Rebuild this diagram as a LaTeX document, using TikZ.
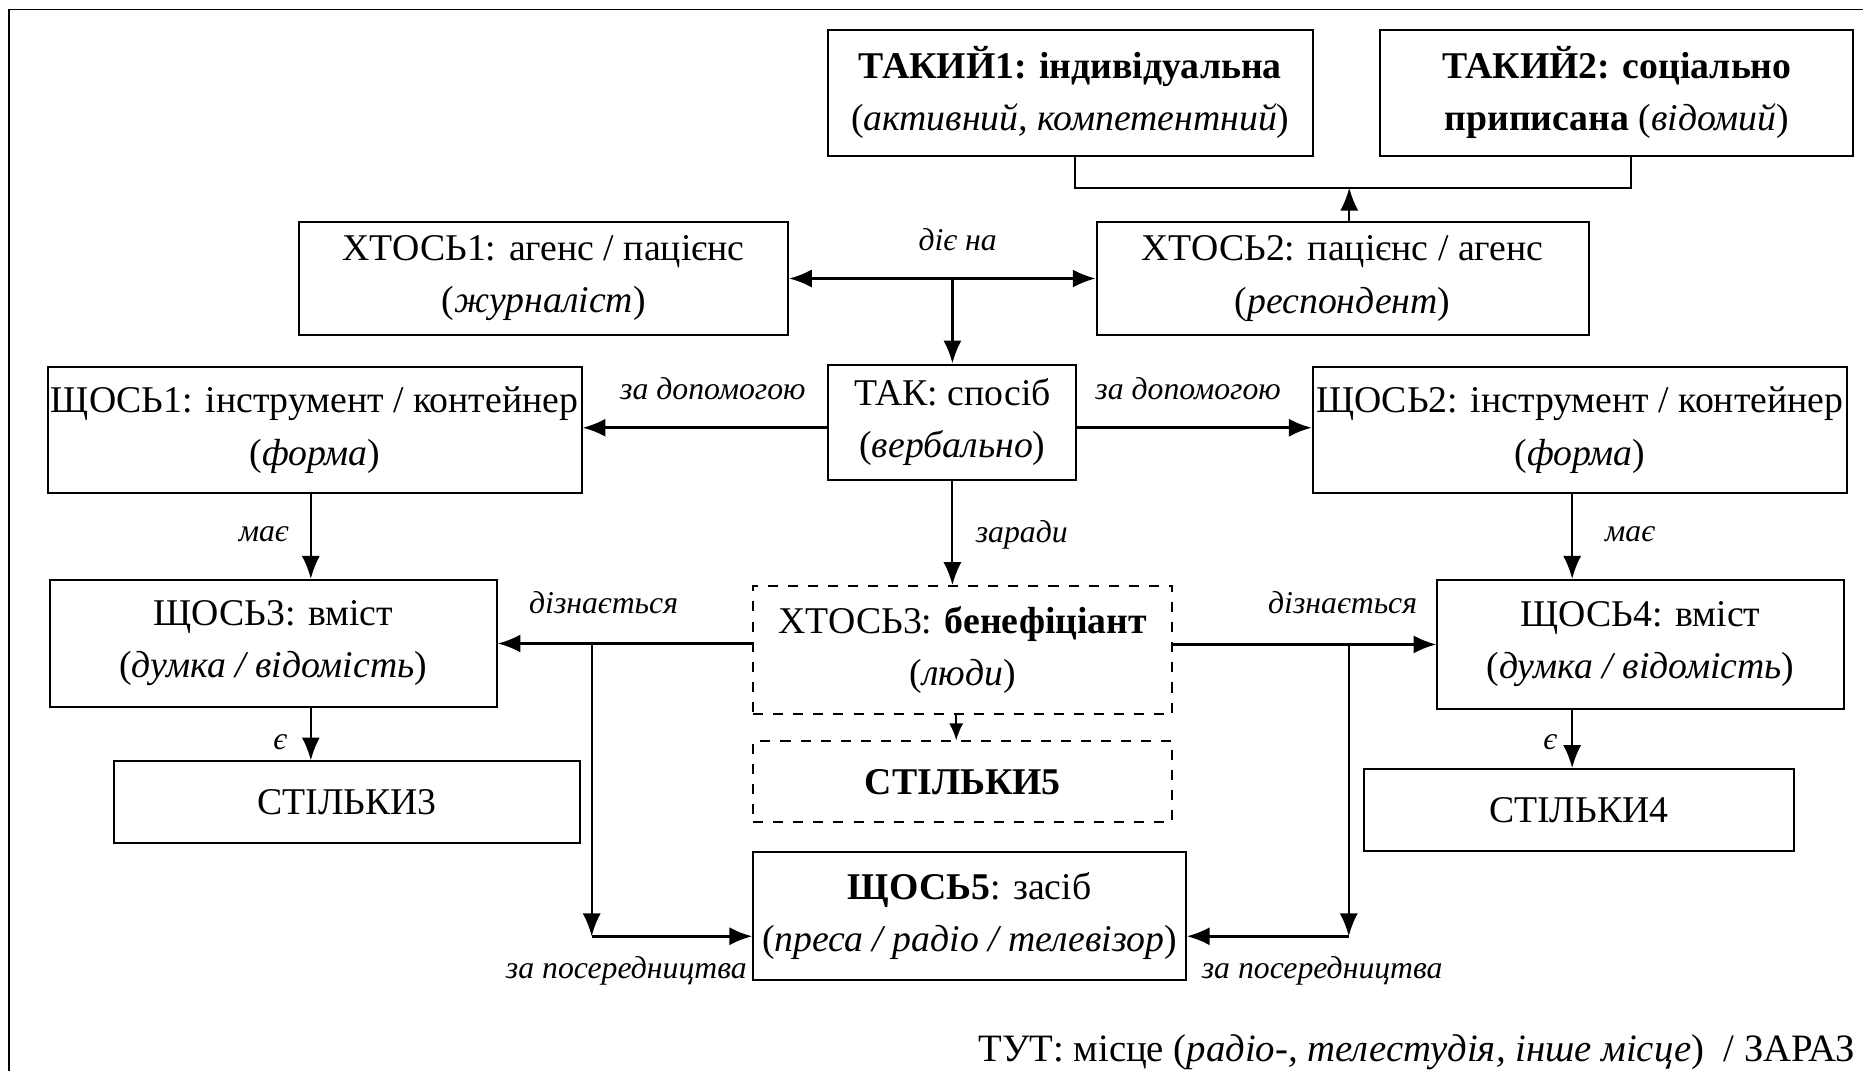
\documentclass[tikz,border=0pt]{standalone}
\usepackage{fontspec}
\setmainfont{Liberation Serif}
\usetikzlibrary{arrows.meta,positioning}

\begin{document}
\begin{tikzpicture}[
    box/.style={draw,semithick,inner sep=1pt,align=center,font=\fontsize{11.3}{15.6}\selectfont},
    dbox/.style={box,dashed},
    lbl/.style={font=\fontsize{9.5}{11}\selectfont\itshape},
    arr/.style={-{Latex[length=2.4mm,width=1.9mm]},thick}]

    \useasboundingbox (0,0) rectangle (19.6,-11.2625);
    \draw[thin] (0.095,-11.2625) |- (19.6,-0.1);

    % top row
    \node[box,minimum width=5.1cm,minimum height=1.325cm] (tak1) at (11.26,-0.975) {\textbf{ТАКИЙ1: індивідуальна}\\(\textit{активний, компетентний})};
    \node[box,minimum width=4.975cm,minimum height=1.325cm] (tak2) at (17.01,-0.975) {\textbf{ТАКИЙ2: соціально}\\\textbf{приписана} (\textit{відомий})};

    \node[box,minimum width=5.14cm,minimum height=1.19cm] (xtos1) at (5.72,-2.93) {ХТОСЬ1: агенс / пацієнс\\(\textit{журналіст})};
    \node[box,minimum width=5.175cm,minimum height=1.19cm] (xtos2) at (14.125,-2.93) {ХТОСЬ2: пацієнс / агенс\\(\textit{респондент})};

    \node[box,minimum width=2.61cm,minimum height=1.21cm] (tak) at (10.02,-4.44) {ТАК: спосіб\\(\textit{вербально})};
    \node[box,minimum width=5.575cm,minimum height=1.325cm] (schos1) at (3.31,-4.525) {ЩОСЬ1: інструмент / контейнер\\(\textit{форма})};
    \node[box,minimum width=5.56cm,minimum height=1.325cm] (schos2) at (16.62,-4.525) {ЩОСЬ2: інструмент / контейнер\\(\textit{форма})};

    \node[box,minimum width=4.7cm,minimum height=1.34cm] (schos3) at (2.875,-6.77) {ЩОСЬ3: вміст\\(\textit{думка / відомість})};
    \node[box,minimum width=4.275cm,minimum height=1.36cm] (schos4) at (17.26,-6.78) {ЩОСЬ4: вміст\\(\textit{думка / відомість})};
    \node[dbox,minimum width=4.41cm,minimum height=1.35cm] (xtos3) at (10.13,-6.84) {ХТОСЬ3: \textbf{бенефіціант}\\(\textit{люди})};

    \node[dbox,minimum width=4.41cm,minimum height=0.85cm] (stil5) at (10.13,-8.225) {\textbf{СТІЛЬКИ5}};
    \node[box,minimum width=4.9cm,minimum height=0.86cm] (stil3) at (3.65,-8.44) {СТІЛЬКИ3};
    \node[box,minimum width=4.525cm,minimum height=0.86cm] (stil4) at (16.61,-8.52) {СТІЛЬКИ4};

    \node[box,minimum width=4.55cm,minimum height=1.35cm] (schos5) at (10.2,-9.64) {\textbf{ЩОСЬ5}: засіб\\(\textit{преса / радіо / телевізор})};

    \node[box,draw=none,anchor=east,font=\fontsize{11.6}{15.6}\selectfont] (tut) at (19.56,-11.075) {ТУТ: місце (\textit{радіо-, телестудія, інше місце})~ / ЗАРАЗ};

    % bracket over TAKYI
    \coordinate (brL) at (11.31,-1.975);
    \coordinate (brR) at (17.16,-1.975);
    \draw[semithick] (brL |- tak1.south) -- (brL) -- (brR) -- (brR |- tak2.south);
    \draw[arr,semithick] ([xshift=0.07cm]xtos2.north) -- ([xshift=0.07cm]xtos2.north |- brL);

    % acts on
    \coordinate (hub) at (tak.north |- xtos1.east);
    \draw[arr] (hub) -- (xtos1.east);
    \draw[arr] (hub) -- (xtos2.west);
    \draw[arr] (hub) -- (tak.north);
    \node[lbl] (dieNa) at (10.075,-2.525) {діє на};

    % by means of
    \draw[arr] ([yshift=-0.06cm]tak.west) -- ([yshift=-0.06cm]tak.west -| schos1.east);
    \draw[arr] ([yshift=-0.06cm]tak.east) -- ([yshift=-0.06cm]tak.east -| schos2.west);
    \node[lbl] (dopL) at (7.5,-4.09) {за допомогою};
    \node[lbl] (dopR) at (12.5,-4.09) {за допомогою};

    % has / is
    \draw[arr,semithick] ([xshift=-0.04cm]schos1.south) -- ([xshift=-0.04cm]schos1.south |- schos3.north);
    \draw[arr,semithick] ([xshift=-0.04cm]schos1.south |- schos3.south) -- ([xshift=-0.04cm]schos1.south |- stil3.north);
    \draw[arr,semithick] ([xshift=-0.08cm]schos2.south) -- ([xshift=-0.08cm]schos2.south |- schos4.north);
    \draw[arr,semithick] ([xshift=-0.08cm]schos2.south |- schos4.south) -- ([xshift=-0.08cm]schos2.south |- stil4.north);
    \node[lbl] (maeL) at (2.775,-5.625) {має};
    \node[lbl] (maeR) at (17.15,-5.625) {має};
    \node[lbl] (yeL) at (2.95,-7.81) {є};
    \node[lbl] (yeR) at (16.31,-7.81) {є};

    % for the sake of
    \draw[arr,semithick] (tak.south) -- (tak.south |- xtos3.north);
    \node[lbl] (zarady) at (10.75,-5.625) {заради};
    \draw[-{Latex[length=1.8mm,width=1.5mm]},semithick] ([xshift=-0.07cm]xtos3.south) -- ([xshift=-0.07cm]stil5.north);

    % learns
    \draw[arr] (xtos3.west |- schos3.east) -- (schos3.east);
    \draw[arr] (xtos3.east |- schos4.west) -- (schos4.west);
    \node[lbl] (dizL) at (6.35,-6.34) {дізнається};
    \node[lbl] (dizR) at (14.125,-6.34) {дізнається};

    % through the medium of
    \coordinate (jL) at (6.225,-6.77);
    \coordinate (mL) at (6.225,-9.85);
    \coordinate (jR) at (14.19,-6.77);
    \coordinate (mR) at (14.19,-9.85);
    \draw[arr,semithick] (jL) -- (mL);
    \draw[arr] (mL) -- (mL -| schos5.west);
    \draw[arr,semithick] (jR) -- (mR);
    \draw[arr] (mR) -- (mR -| schos5.east);
    \node[lbl,anchor=east] (posL) at (7.98,-10.21) {за посередництва};
    \node[lbl,anchor=west] (posR) at (12.52,-10.21) {за посередництва};
\end{tikzpicture}
\end{document}
